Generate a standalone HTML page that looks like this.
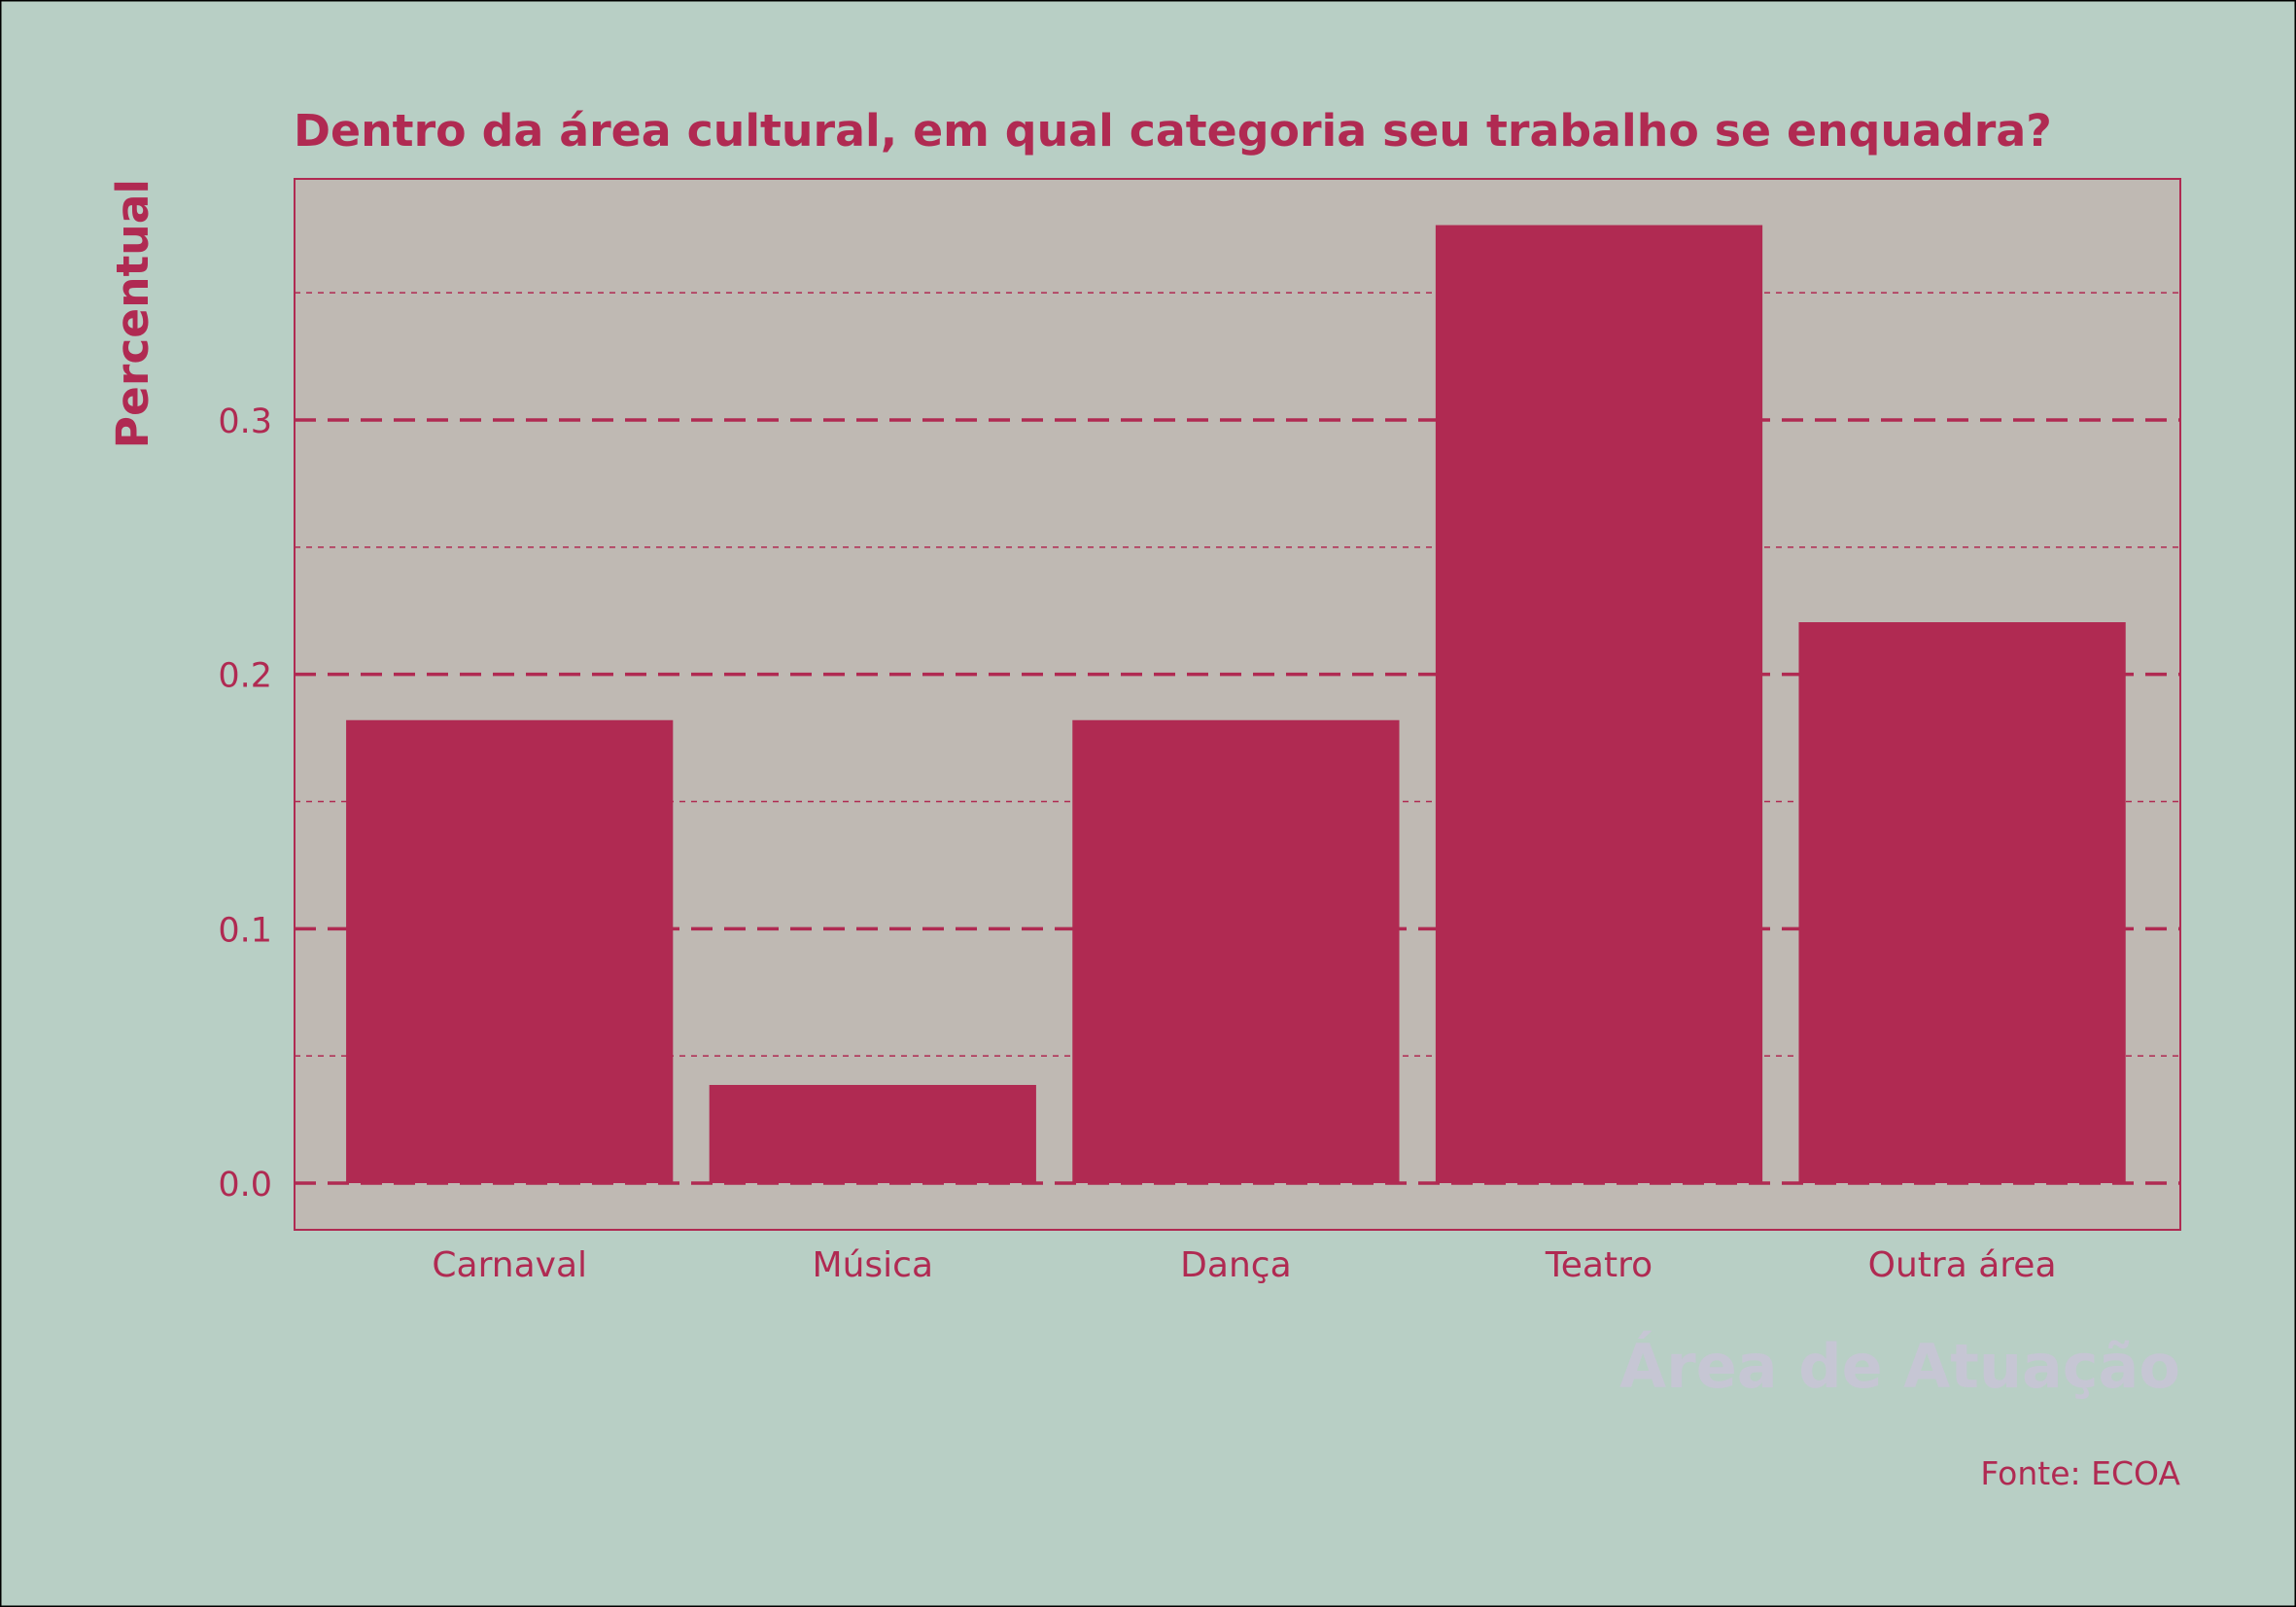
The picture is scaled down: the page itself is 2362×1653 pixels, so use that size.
<!DOCTYPE html>
<html><head><meta charset="utf-8"><style>
html,body{margin:0;padding:0;background:#b8cfc5}
svg{display:block;font-family:"DejaVu Sans","Liberation Sans",sans-serif}
</style></head><body>
<svg id="chart" width="2362" height="1653" viewBox="0 0 2362 1653" xmlns="http://www.w3.org/2000/svg">
<rect x="0.5" y="0.5" width="2361" height="1652" fill="#b8cfc5" stroke="#000" stroke-width="2"/>
<rect x="303" y="184" width="1940" height="1081" fill="#bfb9b3" stroke="#b02a52" stroke-width="2"/>
<g id="grid"></g>
<g id="bars"></g>
<g id="yticks"></g>
<g id="xticks"></g>
<text x="302" y="150" font-size="45.8" font-weight="bold" fill="#b02a52">Dentro da área cultural, em qual categoria seu trabalho se enquadra?</text>
<text transform="translate(152,184) rotate(-90)" text-anchor="end" font-size="45.5" font-weight="bold" fill="#b02a52">Percentual</text>
<text x="2243" y="1427" text-anchor="end" font-size="62" font-weight="bold" fill="#c6c6d4">Área de Atuação</text>
<text x="2243" y="1527" text-anchor="end" font-size="33" fill="#b02a52">Fonte: ECOA</text>
</svg>
<script>
const categories = ["Carnaval","Música","Dança","Teatro","Outra área"];
const values = [0.182, 0.0386, 0.182, 0.3766, 0.2205];
const yTicks = [0, 0.1, 0.2, 0.3];
const yMinor = [0.05, 0.15, 0.25, 0.35];
const tickLabels = ["0.0","0.1","0.2","0.3"];

const NS="http://www.w3.org/2000/svg";
const L=303,R=2243,y0=1217,perUnit=2616.7;
function y(v){return y0-v*perUnit;}
const bandW=373.6;
function xc(i){return 524.2+i*bandW;}
function mk(tag,attrs,parent){const e=document.createElementNS(NS,tag);for(const k in attrs)e.setAttribute(k,attrs[k]);parent.appendChild(e);return e;}
const grid=document.getElementById('grid');
yMinor.forEach(v=>{
  const l=mk('line',{x1:L,x2:R,y1:y(v),y2:y(v),stroke:'#b02a52','stroke-width':1.5,'stroke-dasharray':'6,6'},grid);
  
  
});
yTicks.forEach(v=>{
  const l=mk('line',{x1:L,x2:R,y1:y(v),y2:y(v),stroke:'#b02a52','stroke-width':3.5,'stroke-dasharray':'22,12'},grid);
  
  
});
const bars=document.getElementById('bars');
const bw=bandW*0.9;
values.forEach((v,i)=>{
  const r=mk('rect',{x:xc(i)-bw/2,y:y(v),width:bw,height:y(0)-y(v),fill:'#b02a52'},bars);
  
  
});
const yt=document.getElementById('yticks');
yTicks.forEach((v,i)=>{
  const t=mk('text',{x:280,y:y(v)+13,'text-anchor':'end','font-size':35,fill:'#b02a52'},yt);
  t.textContent=tickLabels[i];
  
  
});
const xt=document.getElementById('xticks');
categories.forEach((c,i)=>{
  const t=mk('text',{x:xc(i),y:1313,'text-anchor':'middle','font-size':36,fill:'#b02a52'},xt);
  t.textContent=c;
  
  
});
</script>
</body></html>
